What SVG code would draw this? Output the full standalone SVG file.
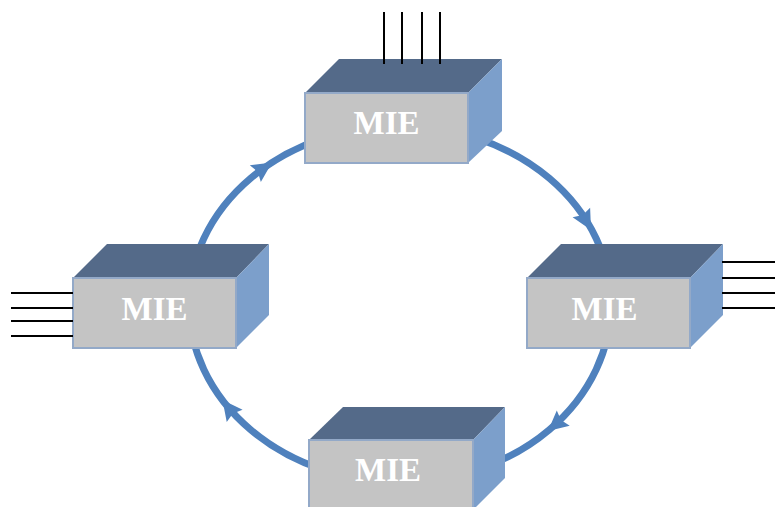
<svg xmlns="http://www.w3.org/2000/svg" width="775" height="507" viewBox="0 0 775 507">
<style>
.ring{fill:none;stroke:#4f81bd;stroke-width:7}
.ah{fill:#4f81bd}
.top{fill:#546a89}
.side{fill:#7c9fcb}
.front{fill:#c4c4c4;stroke:#93a9c8;stroke-width:2}
.lbl{font-family:"Liberation Serif","Times New Roman",serif;font-weight:bold;font-size:33px;fill:#ffffff;text-anchor:middle}
.wire{stroke:#000;stroke-width:2}
</style>
<defs>
<polygon id="head" points="0,0 -20,-10 -17,0 -20,10"/>
</defs>
<g id="connectors">
<ellipse class="ring" cx="400" cy="304" rx="211" ry="178"/>
<use href="#head" class="ah" transform="translate(272,162.5) rotate(-33.5)"/>
<use href="#head" class="ah" transform="translate(591,230) rotate(61.2)"/>
<use href="#head" class="ah" transform="translate(548,431) rotate(139.7)"/>
<use href="#head" class="ah" transform="translate(222.5,400) rotate(-127.5)"/>
</g>
<g id="node-top">
<polygon class="top" points="305,93 339,59 502,59 468,93"/>
<polygon class="side" points="468,93 502,59 502,131 468,163"/>
<rect class="front" x="305" y="93" width="163" height="70"/>
<text class="lbl" x="386.5" y="134">MIE</text>
<line class="wire" x1="384" y1="12" x2="384" y2="64"/>
<line class="wire" x1="402" y1="12" x2="402" y2="64"/>
<line class="wire" x1="422" y1="12" x2="422" y2="64"/>
<line class="wire" x1="440" y1="12" x2="440" y2="64"/>
</g>
<g id="node-left">
<polygon class="top" points="73,278 107,244 269,244 236,278"/>
<polygon class="side" points="236,278 269,244 269,315 236,348"/>
<rect class="front" x="73" y="278" width="163" height="70"/>
<text class="lbl" x="154.5" y="320">MIE</text>
<line class="wire" x1="11" y1="293" x2="73" y2="293"/>
<line class="wire" x1="11" y1="308" x2="73" y2="308"/>
<line class="wire" x1="11" y1="321" x2="73" y2="321"/>
<line class="wire" x1="11" y1="336" x2="73" y2="336"/>
</g>
<g id="node-right">
<polygon class="top" points="527,278 561,244 723,244 690,278"/>
<polygon class="side" points="690,278 723,244 723,315 690,348"/>
<rect class="front" x="527" y="278" width="163" height="70"/>
<text class="lbl" x="604.5" y="320">MIE</text>
<line class="wire" x1="722" y1="262" x2="775" y2="262"/>
<line class="wire" x1="722" y1="278" x2="775" y2="278"/>
<line class="wire" x1="722" y1="293" x2="775" y2="293"/>
<line class="wire" x1="722" y1="308" x2="775" y2="308"/>
</g>
<g id="node-bottom">
<polygon class="top" points="309,440 343,407 505,407 473,440"/>
<polygon class="side" points="473,440 505,407 505,478 473,510"/>
<rect class="front" x="309" y="440" width="164" height="70"/>
<text class="lbl" x="388" y="481">MIE</text>
</g>
</svg>
